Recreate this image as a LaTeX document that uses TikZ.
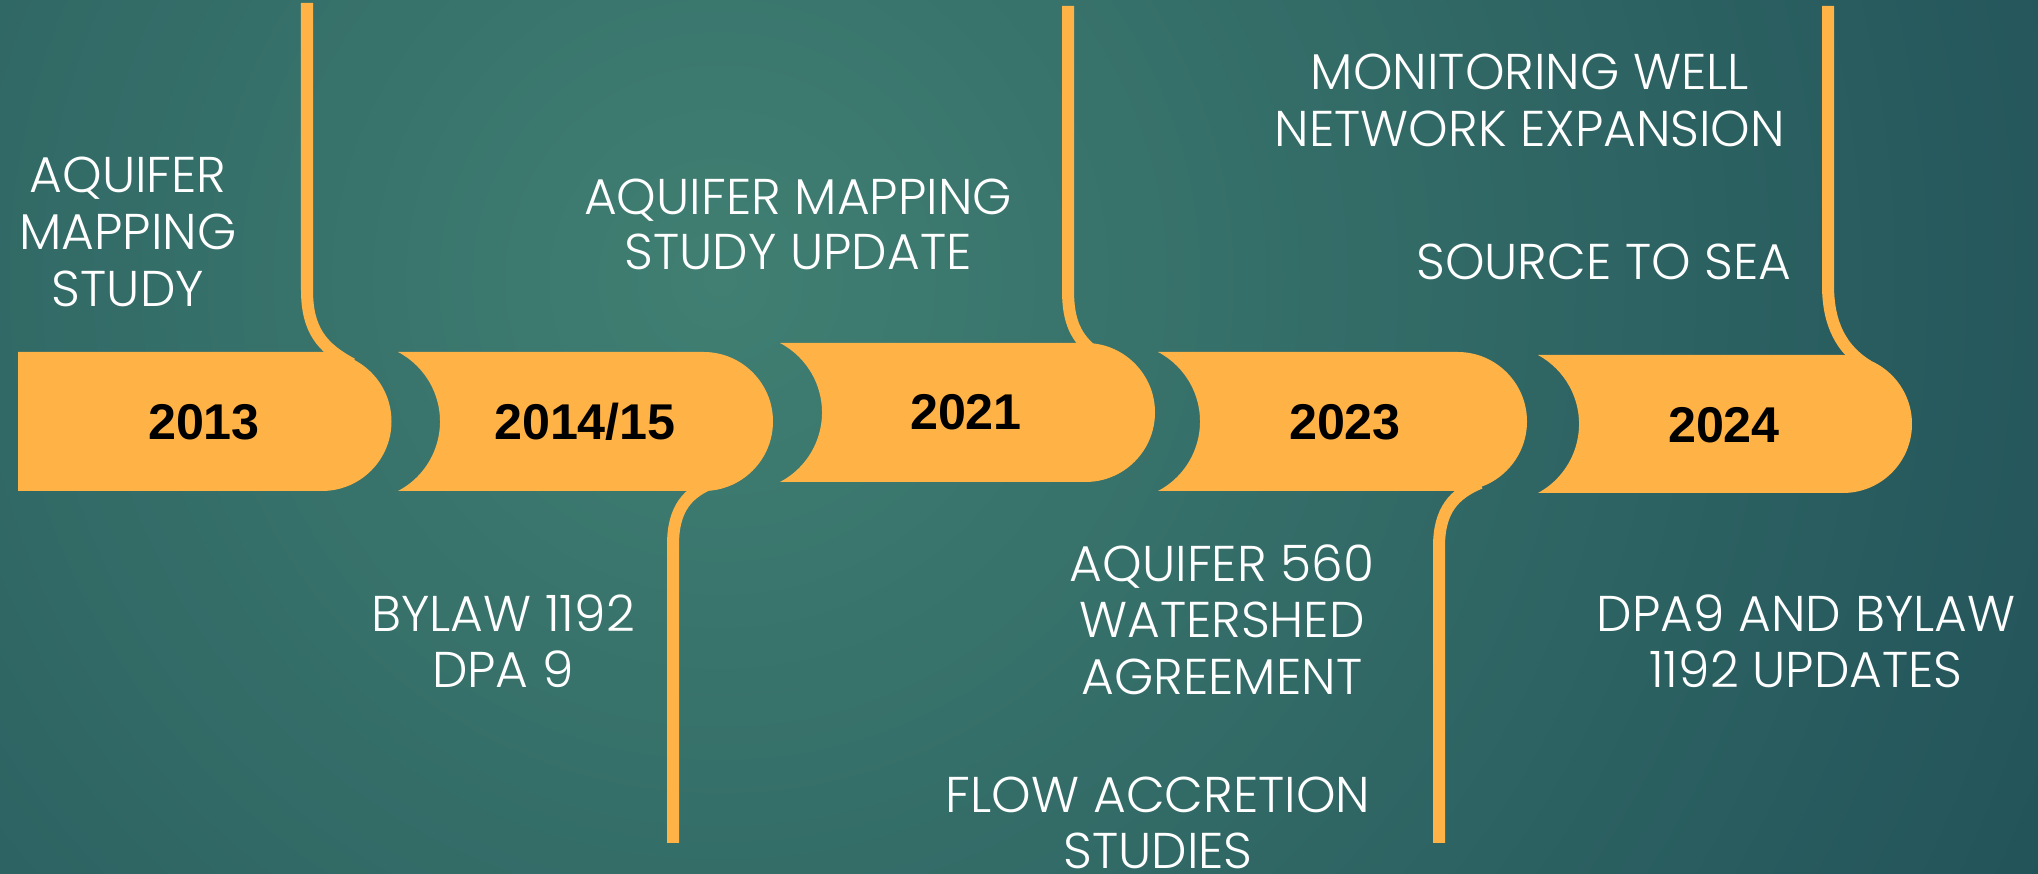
\documentclass[tikz,border=0pt]{standalone}
\usepackage{fontspec}
\setmainfont{Poppins Light}
\newfontfamily\yearfont{Liberation Sans}
\definecolor{barc}{RGB}{255,179,71}
\definecolor{bgin}{RGB}{64,127,114}
\definecolor{bgout}{RGB}{20,62,78}
\tikzset{
  barshape/.style={fill=barc, draw=none},
  stemline/.style={draw=barc, line width=0.12cm, line cap=butt},
  captxt/.style={text=white, inner sep=0pt, anchor=base, font=\fontsize{14.3}{17}\selectfont},
  yeartxt/.style={text=black, inner sep=0pt, anchor=base, font=\yearfont\bfseries\fontsize{14.3}{17}\selectfont}
}
\begin{document}
\begin{tikzpicture}[x=0.01cm,y=0.01cm]
\useasboundingbox (0,0) rectangle (2038,-874);
\begin{scope}
\clip (0,0) rectangle (2038,-874);
\shade[inner color=bgin, outer color=bgout] (720,-280) circle (2150);
\end{scope}

% stems
\coordinate (s1a) at (307,-3);   \coordinate (s1b) at (307,-290);  \coordinate (s1c) at (352,-364);
\coordinate (s2a) at (673,-843); \coordinate (s2b) at (673,-545);  \coordinate (s2c) at (714,-482);
\coordinate (s3a) at (1068,-6);  \coordinate (s3b) at (1068,-290); \coordinate (s3c) at (1095,-353);
\coordinate (s4a) at (1439,-843);\coordinate (s4b) at (1439,-547); \coordinate (s4c) at (1480,-483);
\coordinate (s5a) at (1828,-6);  \coordinate (s5b) at (1828,-285); \coordinate (s5c) at (1868,-366);
\draw[stemline] (s1a) -- (s1b) .. controls (307,-330) and (322,-348) .. (s1c);
\draw[stemline] (s2a) -- (s2b) .. controls (673,-508) and (688,-492) .. (s2c);
\draw[stemline] (s3a) -- (s3b) .. controls (1068,-322) and (1076,-338) .. (s3c);
\draw[stemline] (s4a) -- (s4b) .. controls (1439,-510) and (1454,-494) .. (s4c);
\draw[stemline] (s5a) -- (s5b) .. controls (1828,-325) and (1842,-350) .. (s5c);

% bars
\fill[barshape] (18,-352) -- (322,-352) arc[start angle=90,end angle=-90,radius=69.5] -- (18,-491) -- cycle;
\fill[barshape] (398,-352) -- (703.5,-352) arc[start angle=90,end angle=-90,radius=69.5] -- (398,-491) arc[start angle=-62.3,end angle=62.3,radius=78.5] -- cycle;
\fill[barshape] (780,-343) -- (1085.5,-343) arc[start angle=90,end angle=-90,radius=69.5] -- (780,-482) arc[start angle=-62.3,end angle=62.3,radius=78.5] -- cycle;
\fill[barshape] (1158,-352) -- (1457.5,-352) arc[start angle=90,end angle=-90,radius=69.5] -- (1158,-491) arc[start angle=-62.3,end angle=62.3,radius=78.5] -- cycle;
\fill[barshape] (1538,-355) -- (1843,-355) arc[start angle=90,end angle=-90,radius=69] -- (1538,-493) arc[start angle=-61.5,end angle=61.5,radius=78.5] -- cycle;

% years
\node[yeartxt] (y1) at (204,-440) {2013};
\node[yeartxt] (y2) at (585,-440) {2014/15};
\node[yeartxt] (y3) at (966,-430) {2021};
\node[yeartxt] (y4) at (1345,-440) {2023};
\node[yeartxt] (y5) at (1724,-443) {2024};

% captions
\node[captxt] (c1a) at (128,-193) {AQUIFER};
\node[captxt] (c1b) at (128,-250) {MAPPING};
\node[captxt] (c1c) at (128,-307) {STUDY};

\node[captxt] (c2a) at (503,-632) {BYLAW 1192};
\node[captxt] (c2b) at (503,-688) {DPA 9};

\node[captxt] (c3a) at (798,-215) {AQUIFER MAPPING};
\node[captxt] (c3b) at (798,-270) {STUDY UPDATE};

\node[captxt] (c4a) at (1222,-582) {AQUIFER 560};
\node[captxt] (c4b) at (1222,-638) {WATERSHED};
\node[captxt] (c4c) at (1222,-695) {AGREEMENT};
\node[captxt] (c4d) at (1158,-813) {FLOW ACCRETION};
\node[captxt] (c4e) at (1158,-869) {STUDIES};

\node[captxt] (c5a) at (1530,-90) {MONITORING WELL};
\node[captxt] (c5b) at (1530,-147) {NETWORK EXPANSION};
\node[captxt] (c5c) at (1604,-280) {SOURCE TO SEA};

\node[captxt] (c6a) at (1806,-632) {DPA9 AND BYLAW};
\node[captxt] (c6b) at (1806,-688) {1192 UPDATES};
\end{tikzpicture}
\end{document}
